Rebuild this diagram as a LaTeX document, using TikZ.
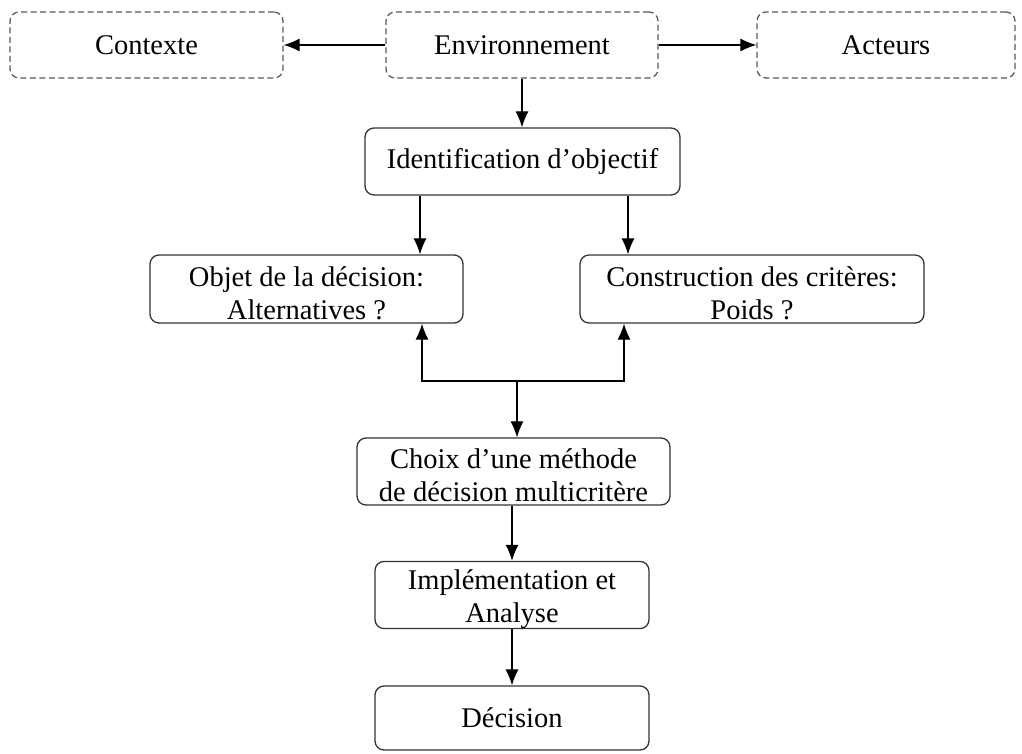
\documentclass[tikz,border=0pt]{standalone}
\usepackage{fontspec}
\setmainfont{Liberation Serif}
\usetikzlibrary{arrows.meta,positioning}

\tikzset{
  box/.style={draw=black!80, rounded corners=9pt, line width=1.3pt, align=center,
    inner sep=0pt, font=\fontsize{28.5}{33}\selectfont},
  dbox/.style={box, draw=black!65, dash pattern=on 6pt off 3.5pt},
}

\begin{document}
\begin{tikzpicture}[x=1pt,y=-1pt,>={Latex[length=16pt,width=13pt]},line width=1.2pt]
\useasboundingbox (0,0) rectangle (1022,753);

\node[dbox, minimum width=273pt, minimum height=66pt] (ctx) at (146.5,45) {Contexte};
\node[dbox, minimum width=272pt, minimum height=66pt] (env) at (522,45) {Environnement};
\node[dbox, minimum width=258pt, minimum height=66pt] (act) at (886,45) {Acteurs};
\node[box, minimum width=315pt, minimum height=67pt] (ident) at (522.5,161.5) {Identification d’objectif};
\node[box, minimum width=313pt, minimum height=68pt] (objet) at (306.5,289) {\rule{0pt}{28pt}Objet de la décision:\\Alternatives ?};
\node[box, minimum width=344pt, minimum height=68pt] (constr) at (752,289) {\rule{0pt}{28pt}Construction des critères:\\Poids ?};
\node[box, minimum width=313pt, minimum height=67pt] (choix) at (513.5,471.5) {\rule{0pt}{28pt}Choix d’une méthode\\de décision multicritère};
\node[box, minimum width=274pt, minimum height=66pt] (impl) at (512,595) {\rule{0pt}{28pt}Implémentation et\\Analyse};
\node[box, minimum width=274pt, minimum height=64pt] (dec) at (512,718) {Décision};
\coordinate (fork) at (517,381);

\draw[->] (env.west) -- (ctx.east);
\draw[->] (env.east) -- (act.west);
\draw[->] (env.south) -- (env.south |- ident.north);
\draw[->] ([xshift=-102.5pt]ident.south) -- ([xshift=-102.5pt]ident.south |- objet.north);
\draw[->] ([xshift=105.5pt]ident.south) -- ([xshift=105.5pt]ident.south |- constr.north);
\draw[<->] ([xshift=115.5pt]objet.south) |- (fork) -| ([xshift=-128pt]constr.south);
\draw[->] (fork) -- (fork |- choix.north);
\draw[->] (impl.north |- choix.south) -- (impl.north);
\draw[->] (impl.south) -- (dec.north);

\end{tikzpicture}
\end{document}
